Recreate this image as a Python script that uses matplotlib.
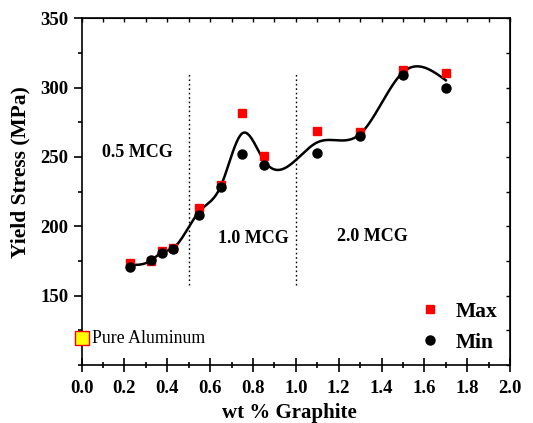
import numpy as np
import matplotlib
matplotlib.use("Agg")
import matplotlib.pyplot as plt
from matplotlib.ticker import MultipleLocator

plt.rcParams['font.family'] = ['Liberation Serif', 'DejaVu Serif']

wt = [0.225, 0.325, 0.375, 0.425, 0.55, 0.65, 0.75, 0.85, 1.1, 1.3, 1.5, 1.7]
ys_max = [173.5, 175, 182, 184.5, 213, 230, 282, 251, 268.5, 268, 313, 310.5]
ys_min = [171, 176, 180.5, 183.5, 208.5, 228, 252, 244.5, 252.5, 265, 309, 300]
pure_al = 119.2
zones = ["0.5 MCG", "1.0 MCG", "2.0 MCG"]
zone_x = [0.26, 0.80, 1.355]
zone_y = [253, 191, 193]
bounds = [0.5, 1.0]


def natural_spline(x, y, xs):
    # natural cubic spline through (x, y)
    x = np.asarray(x, float)
    y = np.asarray(y, float)
    n = len(x)
    h = np.diff(x)
    A = np.zeros((n, n))
    b = np.zeros(n)
    A[0, 0] = A[-1, -1] = 1
    for i in range(1, n - 1):
        A[i, i - 1] = h[i - 1]
        A[i, i] = 2 * (h[i - 1] + h[i])
        A[i, i + 1] = h[i]
        b[i] = 3 * ((y[i + 1] - y[i]) / h[i] - (y[i] - y[i - 1]) / h[i - 1])
    c = np.linalg.solve(A, b)
    out = np.empty_like(xs)
    for k, t in enumerate(xs):
        i = min(max(np.searchsorted(x, t) - 1, 0), n - 2)
        d = t - x[i]
        bb = (y[i + 1] - y[i]) / h[i] - h[i] * (2 * c[i] + c[i + 1]) / 3
        dd = (c[i + 1] - c[i]) / (3 * h[i])
        out[k] = y[i] + bb * d + c[i] * d ** 2 + dd * d ** 3
    return out


avg = (np.array(ys_max) + np.array(ys_min)) / 2
xs = np.linspace(wt[0], wt[-1], 400)
curve = natural_spline(wt, avg, xs)

fig = plt.figure(figsize=(5.33, 4.23), dpi=100)
ax = fig.add_axes([0.153, 0.137, 0.804, 0.82])

ax.plot(xs, curve, color="black", lw=1.8, zorder=2)
ax.plot(wt, ys_max, "s", color="red", ms=6, label="Max", zorder=3)
ax.plot(wt, ys_min, "o", color="black", ms=6.5, label="Min", zorder=3)
ax.plot([0], [pure_al], "s", mfc="#ffff00", mec="red", mew=1, ms=9.5,
        clip_on=False, zorder=4)
ax.text(0.05, pure_al, "Pure Aluminum", fontsize=12.8, va="center", ha="left")

for bx in bounds:
    ax.plot([bx, bx], [157.5, 310], ls=(0, (1.2, 2)), color="black", lw=1)

for t, zx, zy in zip(zones, zone_x, zone_y):
    ax.text(zx, zy, t, fontsize=13, fontweight="bold", ha="center", va="center")

ax.set_xlim(0, 2.0)
ax.set_ylim(100, 350)
ax.xaxis.set_major_locator(MultipleLocator(0.2))
ax.xaxis.set_minor_locator(MultipleLocator(0.1))
ax.set_yticks([150, 200, 250, 300, 350])
ax.yaxis.set_minor_locator(MultipleLocator(25))

ax.tick_params(axis="x", which="major", direction="inout", length=10, width=1.2,
               labelsize=13.5, pad=6, top=False)
ax.tick_params(axis="x", which="minor", direction="inout", length=4, width=1.2, top=False)
ax.tick_params(axis="y", which="major", direction="out", length=6, width=1.2,
               labelsize=13.5, right=False)
ax.tick_params(axis="y", which="minor", direction="out", length=3, width=1.2, right=False)
for lab in ax.get_xticklabels() + ax.get_yticklabels():
    lab.set_fontweight("bold")

# inward ticks on top/right
sec = ax.secondary_xaxis("top")
sec.xaxis.set_major_locator(MultipleLocator(0.1))
sec.tick_params(direction="in", length=3, width=1, labeltop=False)
sec2 = ax.secondary_yaxis("right")
sec2.yaxis.set_major_locator(MultipleLocator(25))
sec2.tick_params(direction="in", length=3, width=1, labelright=False)

for s in ax.spines.values():
    s.set_linewidth(1.2)

ax.set_xlabel("wt % Graphite", fontsize=15, fontweight="bold", va="center")
ax.xaxis.set_label_coords(0.486, -0.138)
ax.set_ylabel("Yield Stress (MPa)", fontsize=15.5, fontweight="bold", va="center")
ax.yaxis.set_label_coords(-0.143, 0.556)

leg = ax.legend(loc="lower right", frameon=False, fontsize=15.5, handletextpad=0.6,
                bbox_to_anchor=(1.016, -0.02), handlelength=1.2)
for t in leg.get_texts():
    t.set_fontweight("bold")

fig.savefig("out.png", dpi=100)
